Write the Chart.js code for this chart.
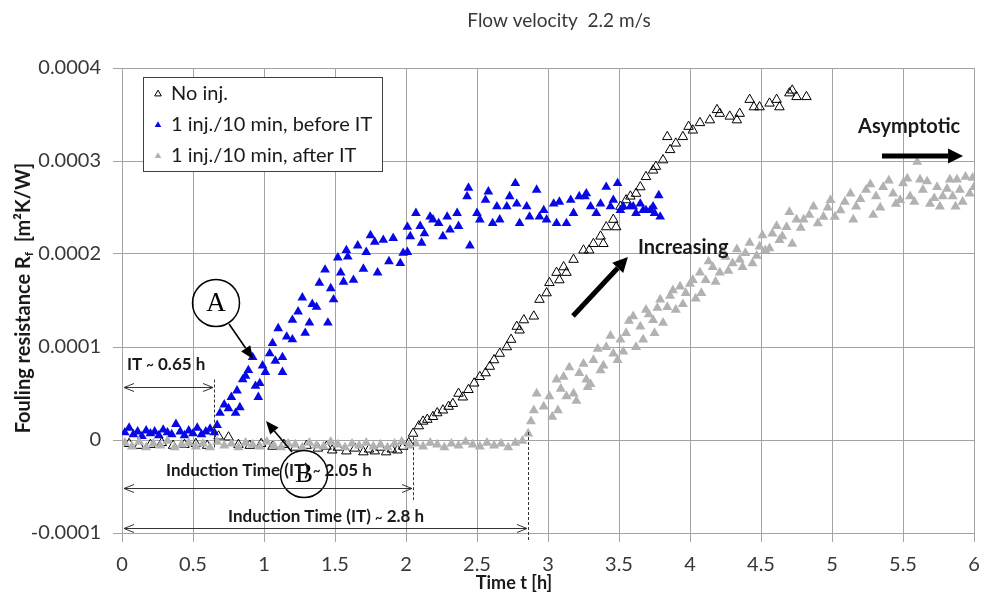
<!DOCTYPE html>
<html>
<head>
<meta charset="utf-8">
<script src="https://cdn.jsdelivr.net/npm/chart.js@4.4.1/dist/chart.umd.min.js"></script>
<style>
  html, body { margin: 0; padding: 0; background: #fff; }
  #wrap { width: 981px; height: 592px; }
</style>
</head>
<body>
<div id="wrap"><canvas id="foulingChart"></canvas></div>
<script>
// Rf values are given in units of 1e-5 m2K/W
const rfUnit = 1e-5;

const noInjT = [
  0.05, 0.12, 0.2, 0.28, 0.36, 0.44, 0.52, 0.6, 0.68, 0.75, 0.82, 0.9, 0.98, 1.06, 1.14, 1.22,
  1.3, 1.38, 1.44, 1.48, 1.52, 1.58, 1.64, 1.7, 1.74, 1.78, 1.82, 1.86, 1.9, 1.94, 1.98, 2.02,
  2.05, 2.09, 2.12, 2.15, 2.19, 2.22, 2.26, 2.3, 2.33, 2.37, 2.4, 2.44, 2.48, 2.52, 2.56, 2.59,
  2.62, 2.66, 2.71, 2.74, 2.78, 2.8, 2.83, 2.9, 2.94, 2.99, 3.01, 3.06, 3.08, 3.11, 3.13, 3.18,
  3.25, 3.29, 3.32, 3.37, 3.39, 3.41, 3.46, 3.48, 3.51, 3.55, 3.58, 3.62, 3.65, 3.69, 3.74, 3.76,
  3.81, 3.84, 3.86, 3.9, 3.95, 3.99, 4.02, 4.07, 4.14, 4.19, 4.21, 4.28, 4.33, 4.35, 4.42, 4.45,
  4.49, 4.56, 4.61, 4.63, 4.7, 4.72, 4.75, 4.82,
];
const noInjRf = [
  -0.4, -0.6, -0.5, -0.3, -0.6, -0.5, -0.4, -0.6, 0.4, 0.3, -0.5, -0.6, -0.4, -0.7, -0.5, -0.8,
  -0.6, -0.9, -0.7, -1.1, -0.8, -1.2, -0.9, -1.3, -1.0, -1.2, -0.8, -1.3, -1.0, -1.1, -0.7, -0.3,
  0.7, 1.5, 2.0, 2.2, 2.5, 2.9, 3.2, 3.6, 3.9, 5.0, 4.6, 5.4, 6.1, 6.8, 7.2, 7.9,
  8.6, 9.3, 10.0, 10.8, 12.2, 11.8, 12.9, 13.3, 15.1, 15.8, 16.9, 18.0, 17.2, 18.6, 18.0, 19.4,
  20.4, 20.4, 21.1, 21.9, 21.1, 22.9, 23.7, 22.9, 25.1, 25.8, 26.2, 26.5, 27.2, 28.3, 29.0, 29.4,
  30.1, 32.6, 31.2, 31.9, 32.6, 33.7, 33.3, 34.1, 34.4, 35.5, 35.1, 34.8, 34.4, 35.1, 36.6, 35.8,
  35.8, 36.2, 36.6, 35.8, 37.3, 37.6, 36.9, 36.9,
];

const beforeT = [
  0.02, 0.05, 0.08, 0.11, 0.14, 0.17, 0.2, 0.23, 0.26, 0.29, 0.32, 0.35, 0.38, 0.41, 0.44, 0.47,
  0.5, 0.53, 0.56, 0.59, 0.62, 0.65,
  0.67, 0.69, 0.72, 0.75, 0.77, 0.8, 0.81, 0.83, 0.85, 0.87, 0.89, 0.92, 0.94, 0.96, 0.97, 0.99,
  1.01, 1.04, 1.06, 1.08, 1.1, 1.13, 1.13, 1.16, 1.2, 1.2, 1.24, 1.27, 1.29, 1.32, 1.34, 1.37,
  1.39, 1.43, 1.45, 1.47, 1.49, 1.52, 1.54, 1.56, 1.58, 1.59, 1.63, 1.66, 1.7, 1.72, 1.75, 1.78,
  1.8, 1.84, 1.88, 1.91, 1.96, 1.98, 2.01, 2.01, 2.03, 2.07,
  2.1, 2.11, 2.13, 2.17, 2.19, 2.23, 2.26, 2.29, 2.31, 2.36, 2.37, 2.43, 2.44, 2.45, 2.5, 2.52,
  2.56, 2.58, 2.61, 2.64, 2.66, 2.71, 2.73, 2.77, 2.78, 2.8, 2.85, 2.87, 2.92, 2.94, 2.97, 2.99,
  3.04, 3.06, 3.08, 3.13, 3.16, 3.18, 3.22, 3.26, 3.27, 3.3, 3.34, 3.37, 3.41, 3.44, 3.46, 3.49,
  3.51, 3.53, 3.58, 3.6, 3.62, 3.65, 3.67, 3.69, 3.72, 3.74, 3.75, 3.78, 3.79,
];
const beforeRf = [
  0.8, 1.3, 0.6, 0.9, 0.4, 1.0, 0.7, 0.9, 0.5, 1.1, 0.8, 0.6, 1.7, 0.9, 0.5, 1.0,
  0.7, 1.3, 0.6, 0.9, 1.2, 0.8,
  1.6, 2.9, 3.8, 3.4, 4.6, 2.9, 5.3, 3.5, 6.5, 6.9, 7.5, 8.9, 5.8, 4.6, 6.1, 8.0,
  7.3, 9.3, 10.4, 8.5, 12.0, 7.3, 8.9, 11.1, 10.8, 12.9, 13.8, 15.3, 11.5, 12.6, 14.6, 14.3,
  16.9, 18.3, 12.6, 16.3, 15.1, 19.6, 18.0, 17.0, 20.4, 19.7, 17.2, 20.9, 18.4, 20.2, 22.0, 21.3,
  18.0, 21.5, 19.2, 21.7, 19.0, 20.1, 20.2, 22.9, 21.9, 24.4,
  23.0, 21.2, 22.2, 24.0, 23.7, 23.3, 21.9, 24.0, 22.6, 24.4, 23.0, 26.2, 27.1, 20.9, 24.4, 23.7,
  25.8, 26.7, 23.3, 25.1, 23.7, 25.1, 26.2, 27.6, 25.4, 23.3, 25.1, 24.0, 26.9, 24.0, 24.7, 23.7,
  25.4, 23.3, 25.6, 23.3, 25.8, 24.4, 26.2, 26.2, 26.5, 25.1, 24.4, 25.4, 27.2, 25.1, 25.8, 27.6,
  24.7, 25.1, 25.1, 25.1, 24.4, 25.4, 24.7, 24.7, 24.7, 25.1, 24.4, 26.3, 24.0,
];

const afterT = [
  0.02, 0.07, 0.12, 0.17, 0.22, 0.27, 0.32, 0.37, 0.42, 0.47, 0.52, 0.57, 0.62, 0.67, 0.72, 0.77,
  0.82, 0.87, 0.92, 0.97, 1.02, 1.07, 1.12, 1.17, 1.22, 1.27, 1.32, 1.37, 1.42, 1.47, 1.52, 1.57,
  1.62, 1.67, 1.72, 1.77, 1.82, 1.87, 1.92, 1.97, 2.02, 2.07, 2.12, 2.17, 2.22, 2.27, 2.32, 2.37,
  2.42, 2.47, 2.52, 2.57, 2.62, 2.67, 2.72, 2.77, 2.82,
  2.86, 2.88, 2.9, 2.92, 2.97, 3.01, 3.06, 3.07, 3.11, 3.13, 3.18, 3.22, 3.27, 3.28, 3.32, 3.37,
  3.41, 3.46, 3.49, 3.51, 3.55, 3.6, 3.62, 3.65, 3.69, 3.74, 3.75, 3.79, 3.84, 3.88, 3.9, 3.93,
  3.97, 4.02, 4.07, 4.08, 4.11, 4.16, 4.21, 4.25, 4.3, 4.35, 4.39, 4.44, 4.49, 4.53, 4.58, 4.63,
  4.65, 4.68, 4.72, 4.75, 4.8, 4.87, 4.94, 4.99, 5.06, 5.13, 5.15, 5.17, 5.24, 5.29, 5.31, 5.36,
  5.43, 5.45, 5.5, 5.55, 5.6, 5.62, 5.64, 5.69, 5.74, 5.76, 5.78, 5.83, 5.87, 5.88, 5.9, 5.94,
  5.97, 6.0,
  3.03, 3.09, 3.15, 3.2, 3.25, 3.3, 3.35, 3.39, 3.44, 3.53, 3.57, 3.67, 3.71, 3.77, 3.81, 3.86,
  3.95, 4.0, 4.04, 4.13, 4.18, 4.23, 4.27, 4.33, 4.37, 4.42, 4.47, 4.51, 4.56, 4.61, 4.7, 4.78,
  4.84, 4.9, 4.97, 5.02, 5.09, 5.2, 5.27, 5.34, 5.4, 5.48, 5.53, 5.58, 5.67, 5.72, 5.81, 5.85,
  5.92, 5.99,
];
const afterRf = [
  -0.3, -0.7, -0.2, -0.8, -0.4, -0.6, -0.1, -0.8, -0.5, -0.3, -0.7, -0.4, -0.8, -0.2, -0.6, -0.4,
  -0.8, -0.3, -0.5, -0.7, -0.2, -0.6, -0.8, -0.4, -0.5, -0.8, -0.3, -0.6, -0.7, -0.2, -0.5, -0.8,
  -0.4, -0.6, -0.3, -0.7, -0.5, -0.8, -0.4, -0.2, -0.6, -0.4, -0.7, -0.3, -0.5, -0.8, -0.4, -0.6,
  -0.2, -0.5, -0.7, -0.3, -0.6, -0.4, -0.8, -0.3, -0.1,
  0.7, 2.0, 3.2, 5.0, 3.6, 4.7, 6.5, 3.2, 6.8, 4.7, 5.0, 7.2, 6.5, 5.7, 8.6, 7.5,
  10.0, 9.3, 8.6, 10.8, 11.5, 13.3, 10.0, 12.2, 14.0, 12.9, 11.5, 15.1, 14.3, 16.1, 14.0, 16.5,
  15.8, 17.2, 18.0, 15.8, 17.2, 18.6, 18.0, 19.7, 19.0, 19.4, 20.1, 19.0, 20.8, 20.4, 22.2, 21.5,
  21.9, 22.9, 21.1, 23.7, 23.7, 25.1, 24.0, 25.8, 24.7, 26.5, 23.7, 25.1, 26.9, 24.2, 26.2, 27.2,
  26.5, 25.4, 27.6, 26.2, 29.9, 28.0, 26.9, 25.4, 27.2, 25.1, 26.2, 28.0, 25.1, 28.0, 26.9, 28.3,
  26.5, 27.2,
  2.5, 5.5, 7.8, 4.2, 8.2, 6.0, 9.8, 8.0, 11.2, 9.5, 12.8, 10.8, 13.5, 14.2, 12.6, 15.5,
  14.6, 16.8, 15.2, 19.2, 17.0, 20.3, 18.2, 20.5, 18.6, 21.2, 19.8, 22.0, 20.6, 23.0, 24.5, 22.8,
  24.2, 23.3, 25.0, 24.0, 25.6, 25.9, 27.5, 25.0, 27.9, 25.8, 28.1, 25.6, 27.8, 26.0, 27.0, 26.2,
  25.6, 28.2,
];

const seriesLabels = ["No inj.", "1 inj./10 min, before IT", "1 inj./10 min, after IT"];
const xTicks = [0, 0.5, 1, 1.5, 2, 2.5, 3, 3.5, 4, 4.5, 5, 5.5, 6];
const xTickLabels = ["0", "0.5", "1", "1.5", "2", "2.5", "3", "3.5", "4", "4.5", "5", "5.5", "6"];
const yTicks = [-0.0001, 0, 0.0001, 0.0002, 0.0003, 0.0004];
const yTickLabels = ["-0.0001", "0", "0.0001", "0.0002", "0.0003", "0.0004"];

const toPoints = (ts, rs) => ts.map((t, i) => ({ x: t, y: rs[i] * rfUnit }));

const font = "Lato, 'Open Sans', sans-serif";
const textColor = "#383838";
const gridColor = "#a3a3a3";

// annotation layout, in data coordinates (h, m2K/W)
const notes = {
  bubbleA: { t: 0.662, rf: 1.473e-4, label: "A", from: [0.754, 1.247e-4], to: [0.923, 0.871e-4] },
  bubbleB: { t: 1.282, rf: -0.366e-4, label: "B", from: [1.197, -0.129e-4], to: [1.014, 0.204e-4] },
  spans: [
    { text: ["IT ", "~", " 0.65 h"], tx: 0.035, ty: 0.817e-4, align: "left", y: 0.57e-4, t1: 0.65, dash: [0.65e-4, -0.08e-4] },
    { text: ["Induction Time (IT) ", "~", " 2.05 h"], tx: 1.035, ty: -0.323e-4, align: "center", y: -0.516e-4, t1: 2.05, dash: [0.03e-4, -0.645e-4] },
    { text: ["Induction Time (IT) ", "~", " 2.8 h"], tx: 1.437, ty: -0.828e-4, align: "center", y: -0.946e-4, t1: 2.86, dash: [0.086e-4, -1.075e-4] },
  ],
  increasing: { t: 3.634, rf: 2.065e-4, from: [3.176, 1.333e-4], to: [3.563, 1.968e-4] },
  asymptotic: { t: 5.183, rf: 3.366e-4, from: [5.352, 3.054e-4], to: [5.923, 3.054e-4] },
};

const drawArrow = (ctx, x0, y0, x1, y1, width, headLen, headHalf) => {
  const a = Math.atan2(y1 - y0, x1 - x0),
    bx = x1 - headLen * Math.cos(a),
    by = y1 - headLen * Math.sin(a);
  ctx.lineWidth = width;
  ctx.beginPath();
  ctx.moveTo(x0, y0);
  ctx.lineTo(bx, by);
  ctx.stroke();
  ctx.beginPath();
  ctx.moveTo(x1, y1);
  ctx.lineTo(bx - headHalf * Math.sin(a), by + headHalf * Math.cos(a));
  ctx.lineTo(bx + headHalf * Math.sin(a), by - headHalf * Math.cos(a));
  ctx.closePath();
  ctx.fill();
};

// text pieces, the tilde drawn smaller like in the original
const drawRuns = (ctx, parts, x, y, align) => {
  const fonts = parts.map((p) => (p === "~" ? `bold 13px ${font}` : `bold 17px ${font}`));
  const widths = parts.map((p, i) => {
    ctx.font = fonts[i];
    return ctx.measureText(p).width;
  });
  const total = widths.reduce((a, b) => a + b, 0);
  let cx = align === "center" ? x - total / 2 : x;
  ctx.textAlign = "left";
  ctx.textBaseline = "middle";
  parts.forEach((p, i) => {
    ctx.font = fonts[i];
    ctx.fillText(p, cx, p === "~" ? y + 1 : y);
    cx += widths[i];
  });
};

const notesPlugin = {
  id: "notes",
  afterDatasetsDraw(chart) {
    const { ctx, scales } = chart,
      X = (t) => scales.x.getPixelForValue(t),
      Y = (v) => scales.y.getPixelForValue(v);

    ctx.save();
    ctx.fillStyle = "#000";
    ctx.strokeStyle = "#000";

    // A / B bubbles with pointers
    [notes.bubbleA, notes.bubbleB].forEach((b) => {
      ctx.lineWidth = 1.5;
      ctx.beginPath();
      ctx.arc(X(b.t), Y(b.rf), 23.5, 0, Math.PI * 2);
      ctx.stroke();
      ctx.font = "27px 'Liberation Serif', 'DejaVu Serif', serif";
      ctx.textAlign = "center";
      ctx.textBaseline = "middle";
      ctx.fillText(b.label, X(b.t), Y(b.rf) + 1);
      drawArrow(ctx, X(b.from[0]), Y(b.from[1]), X(b.to[0]), Y(b.to[1]), 1.6, 13, 5.5);
    });

    // induction time spans
    notes.spans.forEach((s) => {
      const x0 = Math.round(X(0)) + 2,
        x1 = Math.round(X(s.t1)) - 1,
        y = Math.round(Y(s.y)) + 0.5;
      ctx.strokeStyle = "#333";
      ctx.lineWidth = 1;
      ctx.beginPath();
      ctx.moveTo(x0, y);
      ctx.lineTo(x1, y);
      ctx.moveTo(x0 + 10, y - 4);
      ctx.lineTo(x0, y);
      ctx.lineTo(x0 + 10, y + 4);
      ctx.moveTo(x1 - 10, y - 4);
      ctx.lineTo(x1, y);
      ctx.lineTo(x1 - 10, y + 4);
      ctx.stroke();

      ctx.setLineDash([3, 2]);
      ctx.beginPath();
      ctx.moveTo(Math.round(X(s.t1)) + 0.5, Y(s.dash[0]));
      ctx.lineTo(Math.round(X(s.t1)) + 0.5, Y(s.dash[1]));
      ctx.stroke();
      ctx.setLineDash([]);

      ctx.fillStyle = "#1a1a1a";
      drawRuns(ctx, s.text, X(s.tx), Y(s.ty), s.align);
    });

    // trend arrows
    ctx.fillStyle = "#000";
    ctx.strokeStyle = "#000";
    [notes.increasing, notes.asymptotic].forEach((n) => {
      drawArrow(ctx, X(n.from[0]), Y(n.from[1]), X(n.to[0]), Y(n.to[1]), 5, 15, 7.5);
    });
    ctx.font = `bold 20px ${font}`;
    ctx.textAlign = "left";
    ctx.textBaseline = "middle";
    ctx.fillStyle = "#1a1a1a";
    ctx.fillText("Increasing", X(notes.increasing.t), Y(notes.increasing.rf));
    ctx.fillText("Asymptotic", X(notes.asymptotic.t), Y(notes.asymptotic.rf));
    ctx.restore();
  },
  afterDraw(chart) {
    const { ctx, chartArea } = chart;
    ctx.save();

    // title
    ctx.fillStyle = textColor;
    ctx.font = `19px ${font}`;
    ctx.textAlign = "center";
    ctx.textBaseline = "middle";
    ctx.fillText("Flow velocity  2.2 m/s", 559, 21);

    // x axis title
    ctx.fillStyle = "#1a1a1a";
    ctx.font = `bold 18px ${font}`;
    ctx.fillText("Time t [h]", 514, 583);

    // y axis title with subscript f
    ctx.save();
    ctx.translate(24, 298);
    ctx.rotate(-Math.PI / 2);
    const main = `bold 20px ${font}`,
      sub = `bold 12px ${font}`,
      parts = [
        ["Fouling resistance R", main, 0],
        ["f", sub, 5],
        ["  [m\u00b2K/W]", main, 0],
      ];
    const widths = parts.map(([s, f]) => {
      ctx.font = f;
      return ctx.measureText(s).width;
    });
    let cx = -widths.reduce((a, b) => a + b, 0) / 2;
    ctx.textAlign = "left";
    parts.forEach(([s, f, dy], i) => {
      ctx.font = f;
      ctx.fillText(s, cx, dy);
      cx += widths[i];
    });
    ctx.restore();

    // legend box
    const bx = chartArea.left + 21,
      by = chartArea.top + 9,
      bw = 239,
      bh = 94;
    ctx.fillStyle = "#fff";
    ctx.fillRect(bx, by, bw, bh);
    ctx.strokeStyle = "#404040";
    ctx.lineWidth = 1;
    ctx.strokeRect(bx + 0.5, by + 0.5, bw, bh);
    ctx.font = `20px ${font}`;
    ctx.textAlign = "left";
    ctx.textBaseline = "middle";
    chart.data.datasets.forEach((ds, i) => {
      const rowY = by + 17 + i * 31,
        mx = bx + 15,
        r = 3.8;
      ctx.beginPath();
      ctx.moveTo(mx, rowY - r);
      ctx.lineTo(mx + r * 0.87, rowY + r * 0.5);
      ctx.lineTo(mx - r * 0.87, rowY + r * 0.5);
      ctx.closePath();
      if (ds.legendFilled) {
        ctx.fillStyle = ds.backgroundColor;
        ctx.fill();
      } else {
        ctx.strokeStyle = "#000";
        ctx.stroke();
      }
      ctx.fillStyle = "#1a1a1a";
      ctx.fillText(ds.label, bx + 28, rowY);
    });
    ctx.restore();
  },
};

new Chart(document.getElementById("foulingChart"), {
  type: "scatter",
  data: {
    datasets: [
      {
        label: seriesLabels[0],
        data: toPoints(noInjT, noInjRf),
        pointStyle: "triangle",
        pointRadius: 5.5,
        backgroundColor: "rgba(255,255,255,0)",
        borderColor: "#000",
        borderWidth: 1,
        legendFilled: false,
        order: 3,
      },
      {
        label: seriesLabels[1],
        data: toPoints(beforeT, beforeRf),
        pointStyle: "triangle",
        pointRadius: 5.6,
        backgroundColor: "#0808e6",
        borderColor: "#0808e6",
        borderWidth: 0,
        legendFilled: true,
        order: 2,
      },
      {
        label: seriesLabels[2],
        data: toPoints(afterT, afterRf),
        pointStyle: "triangle",
        pointRadius: 5.8,
        backgroundColor: "#b2b2b2",
        borderColor: "#b2b2b2",
        borderWidth: 0,
        legendFilled: true,
        order: 1,
      },
    ],
  },
  options: {
    responsive: true,
    maintainAspectRatio: false,
    animation: false,
    events: [],
    layout: {
      padding: { top: 68, right: 7, left: 0, bottom: 0 },
    },
    scales: {
      x: {
        type: "linear",
        min: 0,
        max: 6,
        afterBuildTicks: (axis) => {
          axis.ticks = xTicks.map((v) => ({ value: v }));
        },
        afterFit: (axis) => {
          axis.height = 59;
          axis.paddingLeft = 0;
          axis.paddingRight = 0;
        },
        ticks: {
          callback: (v, i) => xTickLabels[i],
          color: textColor,
          font: { family: font, size: 20 },
          padding: 11,
          maxRotation: 0,
        },
        grid: { color: gridColor, tickLength: 9, lineWidth: 1 },
        border: { color: gridColor },
      },
      y: {
        type: "linear",
        min: -0.0001,
        max: 0.0004,
        afterBuildTicks: (axis) => {
          axis.ticks = yTicks.map((v) => ({ value: v }));
        },
        afterFit: (axis) => {
          axis.width = 122;
          axis.paddingTop = 0;
          axis.paddingBottom = 0;
        },
        ticks: {
          callback: (v, i) => yTickLabels[i],
          color: textColor,
          font: { family: font, size: 20 },
          padding: 12,
        },
        grid: { color: gridColor, tickLength: 9, lineWidth: 1 },
        border: { color: gridColor },
      },
    },
    plugins: {
      legend: { display: false },
      tooltip: { enabled: false },
      title: { display: false },
    },
  },
  plugins: [notesPlugin],
});
</script>
</body>
</html>
